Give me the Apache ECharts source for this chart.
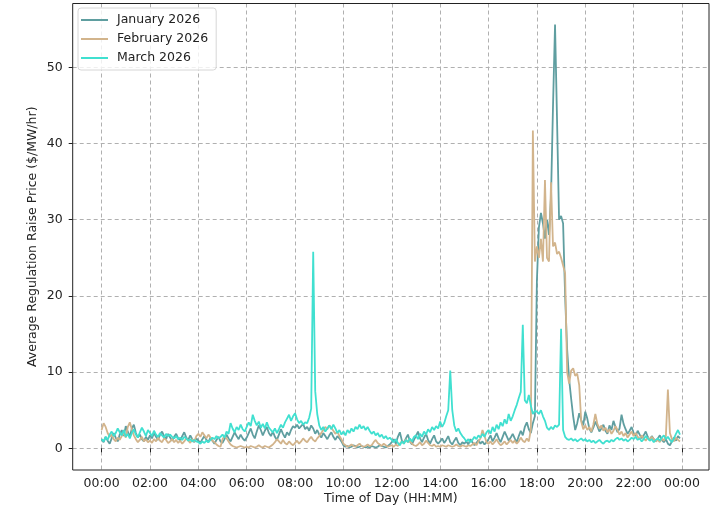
<!DOCTYPE html>
<html>
<head>
<meta charset="utf-8">
<script src="https://cdn.jsdelivr.net/npm/echarts@6/dist/echarts.min.js"></script>
<style>
  html, body { margin: 0; padding: 0; background: #fff; }
  #main { width: 718px; height: 512px; }
</style>
</head>
<body>
<div id="main"></div>
<script>
// 5-minute steps over one day, 00:00 .. 23:55
const stepMinutes = 5;
const xTickLabels = ['00:00', '02:00', '04:00', '06:00', '08:00', '10:00', '12:00',
  '14:00', '16:00', '18:00', '20:00', '22:00', '00:00'];
const yTickLabels = ['0', '10', '20', '30', '40', '50'];
const seriesNames = ['January 2026', 'February 2026', 'March 2026'];

// one row per hour, 12 values each
const january = [
  1.2,0.8,1.5,1.0,0.6,1.3,2.0,1.4,0.9,1.8,2.4,1.6,
  2.9,2.2,1.5,2.6,3.1,2.0,1.4,1.8,1.2,0.9,1.5,1.1,
  1.7,1.3,2.0,1.5,1.1,1.8,2.2,1.6,1.2,1.9,1.4,1.0,
  1.5,1.9,1.3,1.0,1.6,2.1,1.4,1.1,1.7,1.2,0.8,1.3,
  1.0,0.7,1.2,1.6,1.1,0.8,1.4,1.0,0.6,1.1,1.5,0.9,
  0.7,1.2,1.8,1.3,0.9,1.5,2.1,1.6,1.2,1.8,1.3,1.0,
  1.4,2.0,2.6,1.8,1.3,2.2,3.0,2.4,1.7,2.3,2.8,2.0,
  1.6,2.2,1.5,1.1,1.8,2.5,1.9,1.4,2.1,1.7,2.4,2.9,
  2.7,3.1,2.6,2.9,3.2,2.5,2.8,2.3,3.0,2.6,1.9,2.4,
  1.8,1.4,2.0,1.6,1.2,1.7,2.1,1.5,1.1,1.6,1.3,0.9,
  0.4,0.2,0.3,0.1,0.2,0.4,0.3,0.1,0.2,0.3,0.2,0.1,
  0.2,0.1,0.3,0.2,0.1,0.2,0.4,0.3,0.2,0.1,0.3,0.5,
  0.8,1.2,0.6,1.5,2.1,1.0,0.7,1.3,1.8,0.9,0.5,1.1,
  1.6,2.2,1.3,0.8,1.4,1.9,1.1,0.6,1.2,1.7,0.9,0.6,
  0.9,1.3,0.7,1.1,1.6,0.8,0.5,1.0,1.4,0.7,0.4,0.8,
  0.6,0.9,0.5,1.2,0.8,0.4,0.7,1.1,0.6,0.9,0.5,0.8,
  1.2,1.7,0.9,1.4,2.0,1.3,0.8,1.5,2.2,1.6,1.0,1.4,
  1.9,1.3,0.8,1.6,2.3,1.7,2.8,3.4,2.5,2.0,3.3,4.2,
  22.0,29.0,30.9,29.5,27.5,30.0,28.0,33.0,45.0,55.6,43.0,30.0,
  30.5,29.5,20.0,13.0,9.0,6.5,4.2,2.4,3.3,4.6,3.7,3.0,
  4.8,3.9,2.6,2.1,2.7,3.5,2.9,2.2,2.6,3.1,2.3,1.9,
  3.0,2.4,3.6,2.8,2.1,2.6,4.4,3.2,2.5,1.9,2.3,2.8,
  2.0,1.6,2.3,1.8,1.3,1.7,2.2,1.5,1.1,1.6,1.2,0.9,
  1.3,1.7,1.1,0.8,1.2,0.6,0.4,0.9,1.4,1.0,1.6,1.3
];
const february = [
  2.4,3.3,2.8,2.0,1.5,1.8,1.2,0.9,1.4,1.1,1.6,2.0,
  1.4,2.8,3.4,2.5,1.7,1.2,0.8,1.1,1.5,0.9,1.2,0.8,
  1.0,0.7,1.2,0.9,1.4,1.0,0.8,1.3,1.1,0.7,0.9,1.2,
  0.8,1.1,0.7,1.0,0.6,0.9,1.3,1.0,0.7,1.2,0.9,1.6,
  1.9,1.5,2.1,1.7,1.3,1.8,1.4,1.0,0.8,0.5,0.3,0.2,
  1.2,1.6,1.3,0.9,0.5,0.3,0.2,0.1,0.2,0.3,0.2,0.1,
  0.2,0.1,0.3,0.2,0.1,0.2,0.4,0.2,0.1,0.3,0.2,0.1,
  0.3,0.5,0.8,1.2,0.9,0.6,1.1,0.7,0.5,0.9,0.6,0.4,
  0.7,1.0,0.6,0.9,1.3,1.0,0.8,1.2,1.5,1.1,0.9,1.3,
  1.6,2.0,2.4,2.8,2.5,3.0,2.7,2.3,1.9,2.2,1.6,1.2,
  0.6,0.4,0.2,0.3,0.5,0.3,0.2,0.4,0.6,0.3,0.2,0.3,
  0.5,0.3,0.4,0.8,1.1,0.7,0.5,0.3,0.6,0.4,0.2,0.3,
  0.4,0.2,0.5,0.3,0.6,0.9,0.6,1.2,0.8,1.0,0.6,0.4,
  0.3,0.5,0.8,0.4,0.6,1.0,0.7,0.4,0.3,0.5,0.2,0.3,
  0.2,0.4,0.3,0.2,0.4,0.3,0.2,0.3,0.5,0.3,0.2,0.4,
  0.3,0.2,0.4,0.3,0.5,0.7,0.4,0.9,1.3,2.4,1.6,0.8,
  0.6,0.9,0.5,0.8,1.2,0.7,0.4,0.6,0.9,0.5,0.8,1.1,
  0.7,1.0,0.6,0.9,1.4,1.0,0.8,1.3,0.9,2.5,41.7,24.5,
  26.5,25.0,27.5,24.5,35.2,25.0,24.5,34.9,26.5,27.0,25.5,25.8,
  25.0,24.0,23.0,10.0,8.5,10.2,10.5,9.5,9.8,8.3,3.5,2.5,
  3.0,2.4,2.8,2.2,3.1,4.5,3.2,2.6,3.0,2.3,2.7,2.1,
  2.5,1.9,2.3,2.9,2.4,1.8,2.2,1.6,2.0,1.4,1.8,2.2,
  1.6,2.0,1.5,1.2,1.7,1.3,1.0,1.4,1.1,1.5,1.2,0.9,
  1.1,0.8,1.3,1.0,1.6,7.7,2.0,1.2,0.9,1.4,1.1,0.9
];
const march = [
  1.2,0.9,1.5,1.1,1.8,2.2,1.6,2.0,2.6,2.1,1.7,2.4,
  1.5,1.9,1.3,2.0,2.5,1.8,1.4,2.1,2.7,2.2,1.6,2.4,
  2.0,1.6,2.3,1.8,1.5,2.0,1.7,1.4,1.9,1.6,1.8,1.5,
  1.3,1.6,1.2,1.4,1.1,1.5,1.3,1.0,1.2,0.9,1.1,0.9,
  0.8,0.6,0.9,0.7,1.0,0.8,1.1,1.4,1.2,1.6,1.3,1.5,
  1.8,1.4,2.2,1.9,3.3,2.6,2.1,2.8,2.4,3.1,2.5,2.2,
  2.8,3.4,2.9,4.4,3.6,3.0,3.5,2.7,3.2,2.6,3.4,2.7,
  2.4,2.1,2.6,2.0,2.5,3.1,2.7,3.4,3.9,4.4,3.6,4.2,
  4.6,3.8,3.3,3.6,3.1,3.4,3.3,4.0,5.2,25.8,7.5,4.5,
  3.0,2.4,2.8,2.2,2.6,3.0,2.5,3.1,2.6,2.0,2.4,1.8,
  2.2,1.7,2.4,2.0,2.6,2.2,2.8,2.5,3.1,2.6,2.9,2.4,
  2.8,2.3,1.9,2.2,1.7,2.0,1.5,1.8,1.3,1.6,1.2,1.4,
  1.1,0.8,1.2,0.7,0.4,0.9,0.6,1.1,0.8,1.3,0.9,1.5,
  1.7,1.2,1.9,1.5,2.2,1.8,2.5,2.1,2.8,2.4,2.9,2.6,
  3.5,2.8,3.3,4.2,5.0,10.2,5.0,3.0,2.2,2.6,2.0,1.6,
  1.3,0.9,1.2,0.8,1.1,1.5,1.2,1.7,1.4,1.9,1.5,2.1,
  2.4,1.9,2.8,2.2,3.1,2.5,3.4,2.9,3.8,3.2,4.5,3.6,
  4.2,5.0,5.7,6.6,7.4,16.2,6.3,5.9,7.0,5.6,4.5,4.9,
  4.8,4.5,5.0,4.2,3.6,2.7,2.4,2.8,2.5,3.0,2.8,3.1,
  15.7,2.4,1.5,1.2,1.1,1.3,1.0,1.2,0.9,1.1,1.3,1.0,
  1.2,0.9,1.1,0.8,1.0,0.7,0.9,1.1,0.8,0.6,0.9,1.0,
  0.8,1.1,0.9,1.2,1.4,1.1,1.3,1.0,1.2,0.9,1.1,1.4,
  1.2,1.5,1.1,1.3,0.9,1.2,1.6,1.3,1.0,1.2,0.8,1.1,
  1.3,1.0,1.4,1.7,1.2,1.5,1.1,0.8,1.3,1.9,2.4,1.8
];

const colors = ['#5f9ea0', '#d2b48c', '#40e0d0'];
const font = 'DejaVu Sans';

function toPairs(values) {
  return values.map((v, i) => [i * stepMinutes, v]);
}

const chart = echarts.init(document.getElementById('main'), null, { renderer: 'canvas' });

// frame box in px: left 72.7, right 709, top 3.5, bottom 470
// x: 00:00 at 101.6, 24:00 at 682 ; y: 0 at 448.3, 50 at 67.3
chart.setOption({
  animation: false,
  color: colors,
  textStyle: { fontFamily: font },
  legend: {
    data: seriesNames,
    orient: 'vertical',
    left: 78,
    top: 8,
    padding: [5, 8, 5, 3],
    itemGap: 5,
    itemWidth: 27,
    itemHeight: 2,
    icon: 'rect',
    backgroundColor: 'rgba(255,255,255,0.8)',
    borderColor: '#d6d6d6',
    borderWidth: 1,
    borderRadius: 3,
    textStyle: { fontSize: 12.5, color: '#222', fontFamily: font, padding: [0, 0, 0, 4], lineHeight: 14 }
  },
  grid: [
    // frame
    { left: 72.7, right: 9, top: 3.5, bottom: 42, show: true, borderColor: '#222', borderWidth: 1, backgroundColor: 'transparent', z: 5 },
    // y ticks / horizontal grid lines: 0..50
    { left: 72.7, right: 9, top: 67.3, bottom: 63.7 },
    // data: x 0..1440 minutes
    { left: 101.6, right: 36, top: 3.5, bottom: 42 }
  ],
  xAxis: [
    {
      gridIndex: 0, type: 'value', min: 0, max: 1,
      name: 'Time of Day (HH:MM)', nameLocation: 'middle', nameGap: 22,
      nameTextStyle: { fontSize: 12.5, color: '#222', fontFamily: font },
      axisLine: { show: false }, axisTick: { show: false }, axisLabel: { show: false }, splitLine: { show: false }
    },
    {
      gridIndex: 1, type: 'value', min: 0, max: 1, show: false
    },
    {
      gridIndex: 2, type: 'value', min: 0, max: 1440, interval: 120,
      axisLine: { show: false },
      axisTick: { show: true, length: 4, lineStyle: { color: '#222' } },
      axisLabel: {
        fontSize: 12.5, color: '#222', fontFamily: font, margin: 7,
        formatter: v => xTickLabels[Math.round(v / 120)]
      },
      splitLine: { show: true, lineStyle: { color: '#b0b0b0', type: [4, 3], width: 1 } }
    }
  ],
  yAxis: [
    {
      gridIndex: 0, type: 'value', min: 0, max: 1,
      name: 'Average Regulation Raise Price ($/MW/hr)', nameLocation: 'middle', nameGap: 33,
      nameTextStyle: { fontSize: 12.5, color: '#222', fontFamily: font },
      axisLine: { show: false }, axisTick: { show: false }, axisLabel: { show: false }, splitLine: { show: false }
    },
    {
      gridIndex: 1, type: 'value', min: 0, max: 50, interval: 10,
      axisLine: { show: false },
      axisTick: { show: true, length: 4, lineStyle: { color: '#222' } },
      axisLabel: {
        fontSize: 12.5, color: '#222', fontFamily: font, margin: 10,
        formatter: v => yTickLabels[Math.round(v / 10)]
      },
      splitLine: { show: true, lineStyle: { color: '#b0b0b0', type: [4, 3], width: 1 } }
    },
    {
      gridIndex: 2, type: 'value', min: -2.85, max: 58.37, show: false
    }
  ],
  series: [
    { name: seriesNames[0], data: toPairs(january) },
    { name: seriesNames[1], data: toPairs(february) },
    { name: seriesNames[2], data: toPairs(march) }
  ].map(s => Object.assign({
    type: 'line',
    xAxisIndex: 2,
    yAxisIndex: 2,
    showSymbol: false,
    symbol: 'none',
    lineStyle: { width: 1.8 },
    z: 3
  }, s))
});
</script>
</body>
</html>
